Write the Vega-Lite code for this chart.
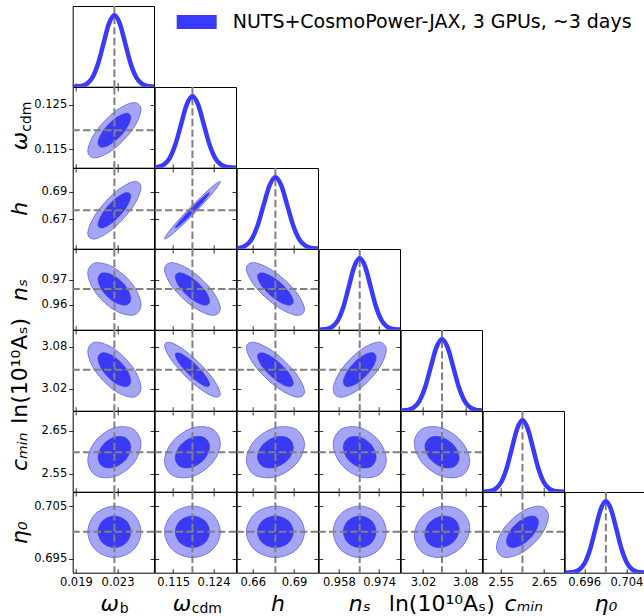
{
"$schema":"https://vega.github.io/schema/vega-lite/v6.json",
"padding":{"left":7.7,"top":2,"right":0,"bottom":0},
"background":"white",
"columns":7,
"bounds":"flush",
"spacing":0,
"datasets":{
"mn":[{"p":"wb","m":0.0227},{"p":"wc","m":0.1193},{"p":"h","m":0.6765},{"p":"ns","m":0.9663},{"p":"as","m":3.047},{"p":"cm","m":2.6},{"p":"e0","m":0.7001}],
"mg":[
{"p":"wb","x":0.01854,"d":0.0003},{"p":"wb","x":0.01906,"d":0.0022},{"p":"wb","x":0.01958,"d":0.0111},{"p":"wb","x":0.0201,"d":0.0439},{"p":"wb","x":0.02062,"d":0.1353},{"p":"wb","x":0.02114,"d":0.3247},{"p":"wb","x":0.02166,"d":0.6065},{"p":"wb","x":0.02218,"d":0.8825},{"p":"wb","x":0.0227,"d":1},{"p":"wb","x":0.02322,"d":0.8825},{"p":"wb","x":0.02374,"d":0.6065},{"p":"wb","x":0.02426,"d":0.3247},{"p":"wb","x":0.02478,"d":0.1353},{"p":"wb","x":0.0253,"d":0.0439},{"p":"wb","x":0.02582,"d":0.0111},{"p":"wb","x":0.02634,"d":0.0022},{"p":"wb","x":0.02686,"d":0.0003},
{"p":"wc","x":0.10918,"d":0.0003},{"p":"wc","x":0.110445,"d":0.0022},{"p":"wc","x":0.11171,"d":0.0111},{"p":"wc","x":0.112975,"d":0.0439},{"p":"wc","x":0.11424,"d":0.1353},{"p":"wc","x":0.115505,"d":0.3247},{"p":"wc","x":0.11677,"d":0.6065},{"p":"wc","x":0.118035,"d":0.8825},{"p":"wc","x":0.1193,"d":1},{"p":"wc","x":0.120565,"d":0.8825},{"p":"wc","x":0.12183,"d":0.6065},{"p":"wc","x":0.123095,"d":0.3247},{"p":"wc","x":0.12436,"d":0.1353},{"p":"wc","x":0.125625,"d":0.0439},{"p":"wc","x":0.12689,"d":0.0111},{"p":"wc","x":0.128155,"d":0.0022},{"p":"wc","x":0.12942,"d":0.0003},
{"p":"h","x":0.6421,"d":0.0003},{"p":"h","x":0.6464,"d":0.0022},{"p":"h","x":0.6507,"d":0.0111},{"p":"h","x":0.655,"d":0.0439},{"p":"h","x":0.6593,"d":0.1353},{"p":"h","x":0.6636,"d":0.3247},{"p":"h","x":0.6679,"d":0.6065},{"p":"h","x":0.6722,"d":0.8825},{"p":"h","x":0.6765,"d":1},{"p":"h","x":0.6808,"d":0.8825},{"p":"h","x":0.6851,"d":0.6065},{"p":"h","x":0.6894,"d":0.3247},{"p":"h","x":0.6937,"d":0.1353},{"p":"h","x":0.698,"d":0.0439},{"p":"h","x":0.7023,"d":0.0111},{"p":"h","x":0.7066,"d":0.0022},{"p":"h","x":0.7109,"d":0.0003},
{"p":"ns","x":0.9491,"d":0.0003},{"p":"ns","x":0.95125,"d":0.0022},{"p":"ns","x":0.9534,"d":0.0111},{"p":"ns","x":0.95555,"d":0.0439},{"p":"ns","x":0.9577,"d":0.1353},{"p":"ns","x":0.95985,"d":0.3247},{"p":"ns","x":0.962,"d":0.6065},{"p":"ns","x":0.96415,"d":0.8825},{"p":"ns","x":0.9663,"d":1},{"p":"ns","x":0.96845,"d":0.8825},{"p":"ns","x":0.9706,"d":0.6065},{"p":"ns","x":0.97275,"d":0.3247},{"p":"ns","x":0.9749,"d":0.1353},{"p":"ns","x":0.97705,"d":0.0439},{"p":"ns","x":0.9792,"d":0.0111},{"p":"ns","x":0.98135,"d":0.0022},{"p":"ns","x":0.9835,"d":0.0003},
{"p":"as","x":2.983,"d":0.0003},{"p":"as","x":2.991,"d":0.0022},{"p":"as","x":2.999,"d":0.0111},{"p":"as","x":3.007,"d":0.0439},{"p":"as","x":3.015,"d":0.1353},{"p":"as","x":3.023,"d":0.3247},{"p":"as","x":3.031,"d":0.6065},{"p":"as","x":3.039,"d":0.8825},{"p":"as","x":3.047,"d":1},{"p":"as","x":3.055,"d":0.8825},{"p":"as","x":3.063,"d":0.6065},{"p":"as","x":3.071,"d":0.3247},{"p":"as","x":3.079,"d":0.1353},{"p":"as","x":3.087,"d":0.0439},{"p":"as","x":3.095,"d":0.0111},{"p":"as","x":3.103,"d":0.0022},{"p":"as","x":3.111,"d":0.0003},
{"p":"cm","x":2.502,"d":0.0003},{"p":"cm","x":2.51425,"d":0.0022},{"p":"cm","x":2.5265,"d":0.0111},{"p":"cm","x":2.53875,"d":0.0439},{"p":"cm","x":2.551,"d":0.1353},{"p":"cm","x":2.56325,"d":0.3247},{"p":"cm","x":2.5755,"d":0.6065},{"p":"cm","x":2.58775,"d":0.8825},{"p":"cm","x":2.6,"d":1},{"p":"cm","x":2.61225,"d":0.8825},{"p":"cm","x":2.6245,"d":0.6065},{"p":"cm","x":2.63675,"d":0.3247},{"p":"cm","x":2.649,"d":0.1353},{"p":"cm","x":2.66125,"d":0.0439},{"p":"cm","x":2.6735,"d":0.0111},{"p":"cm","x":2.68575,"d":0.0022},{"p":"cm","x":2.698,"d":0.0003},
{"p":"e0","x":0.6921,"d":0.0003},{"p":"e0","x":0.6931,"d":0.0022},{"p":"e0","x":0.6941,"d":0.0111},{"p":"e0","x":0.6951,"d":0.0439},{"p":"e0","x":0.6961,"d":0.1353},{"p":"e0","x":0.6971,"d":0.3247},{"p":"e0","x":0.6981,"d":0.6065},{"p":"e0","x":0.6991,"d":0.8825},{"p":"e0","x":0.7001,"d":1},{"p":"e0","x":0.7011,"d":0.8825},{"p":"e0","x":0.7021,"d":0.6065},{"p":"e0","x":0.7031,"d":0.3247},{"p":"e0","x":0.7041,"d":0.1353},{"p":"e0","x":0.7051,"d":0.0439},{"p":"e0","x":0.7061,"d":0.0111},{"p":"e0","x":0.7071,"d":0.0022},{"p":"e0","x":0.7081,"d":0.0003}
],
"el":[
{"a":"wb","b":"wc","l":"o","i":0,"x":0.025248,"y":0.123949},{"a":"wb","b":"wc","l":"o","i":1,"x":0.024502,"y":0.125487},{"a":"wb","b":"wc","l":"o","i":2,"x":0.0227,"y":0.1234},{"a":"wb","b":"wc","l":"o","i":3,"x":0.020898,"y":0.118911},{"a":"wb","b":"wc","l":"o","i":4,"x":0.020152,"y":0.114651},{"a":"wb","b":"wc","l":"o","i":5,"x":0.020898,"y":0.113113},{"a":"wb","b":"wc","l":"o","i":6,"x":0.0227,"y":0.1152},{"a":"wb","b":"wc","l":"o","i":7,"x":0.024502,"y":0.119689},
{"a":"wb","b":"wc","l":"i","i":0,"x":0.024281,"y":0.122185},{"a":"wb","b":"wc","l":"i","i":1,"x":0.023818,"y":0.123138},{"a":"wb","b":"wc","l":"i","i":2,"x":0.0227,"y":0.121844},{"a":"wb","b":"wc","l":"i","i":3,"x":0.021582,"y":0.119059},{"a":"wb","b":"wc","l":"i","i":4,"x":0.021119,"y":0.116415},{"a":"wb","b":"wc","l":"i","i":5,"x":0.021582,"y":0.115462},{"a":"wb","b":"wc","l":"i","i":6,"x":0.0227,"y":0.116756},{"a":"wb","b":"wc","l":"i","i":7,"x":0.023818,"y":0.119541},
{"a":"wb","b":"h","l":"o","i":0,"x":0.025248,"y":0.693356},{"a":"wb","b":"h","l":"o","i":1,"x":0.024502,"y":0.697359},{"a":"wb","b":"h","l":"o","i":2,"x":0.0227,"y":0.689142},{"a":"wb","b":"h","l":"o","i":3,"x":0.020898,"y":0.673521},{"a":"wb","b":"h","l":"o","i":4,"x":0.020152,"y":0.659644},{"a":"wb","b":"h","l":"o","i":5,"x":0.020898,"y":0.655641},{"a":"wb","b":"h","l":"o","i":6,"x":0.0227,"y":0.663858},{"a":"wb","b":"h","l":"o","i":7,"x":0.024502,"y":0.679479},
{"a":"wb","b":"h","l":"i","i":0,"x":0.024281,"y":0.686958},{"a":"wb","b":"h","l":"i","i":1,"x":0.023818,"y":0.689441},{"a":"wb","b":"h","l":"i","i":2,"x":0.0227,"y":0.684343},{"a":"wb","b":"h","l":"i","i":3,"x":0.021582,"y":0.674652},{"a":"wb","b":"h","l":"i","i":4,"x":0.021119,"y":0.666042},{"a":"wb","b":"h","l":"i","i":5,"x":0.021582,"y":0.663559},{"a":"wb","b":"h","l":"i","i":6,"x":0.0227,"y":0.668657},{"a":"wb","b":"h","l":"i","i":7,"x":0.023818,"y":0.678348},
{"a":"wc","b":"h","l":"o","i":0,"x":0.125499,"y":0.697254},{"a":"wc","b":"h","l":"o","i":1,"x":0.123683,"y":0.693745},{"a":"wc","b":"h","l":"o","i":2,"x":0.1193,"y":0.680137},{"a":"wc","b":"h","l":"o","i":3,"x":0.114917,"y":0.664395},{"a":"wc","b":"h","l":"o","i":4,"x":0.113101,"y":0.655746},{"a":"wc","b":"h","l":"o","i":5,"x":0.114917,"y":0.659255},{"a":"wc","b":"h","l":"o","i":6,"x":0.1193,"y":0.672863},{"a":"wc","b":"h","l":"o","i":7,"x":0.123683,"y":0.688605},
{"a":"wc","b":"h","l":"i","i":0,"x":0.123146,"y":0.689376},{"a":"wc","b":"h","l":"i","i":1,"x":0.122019,"y":0.687199},{"a":"wc","b":"h","l":"i","i":2,"x":0.1193,"y":0.678756},{"a":"wc","b":"h","l":"i","i":3,"x":0.116581,"y":0.66899},{"a":"wc","b":"h","l":"i","i":4,"x":0.115454,"y":0.663624},{"a":"wc","b":"h","l":"i","i":5,"x":0.116581,"y":0.665801},{"a":"wc","b":"h","l":"i","i":6,"x":0.1193,"y":0.674244},{"a":"wc","b":"h","l":"i","i":7,"x":0.122019,"y":0.68401},
{"a":"wb","b":"ns","l":"o","i":0,"x":0.025248,"y":0.959979},{"a":"wb","b":"ns","l":"o","i":1,"x":0.024502,"y":0.96779},{"a":"wb","b":"ns","l":"o","i":2,"x":0.0227,"y":0.974728},{"a":"wb","b":"ns","l":"o","i":3,"x":0.020898,"y":0.97673},{"a":"wb","b":"ns","l":"o","i":4,"x":0.020152,"y":0.972621},{"a":"wb","b":"ns","l":"o","i":5,"x":0.020898,"y":0.96481},{"a":"wb","b":"ns","l":"o","i":6,"x":0.0227,"y":0.957872},{"a":"wb","b":"ns","l":"o","i":7,"x":0.024502,"y":0.95587},
{"a":"wb","b":"ns","l":"i","i":0,"x":0.024281,"y":0.962378},{"a":"wb","b":"ns","l":"i","i":1,"x":0.023818,"y":0.967224},{"a":"wb","b":"ns","l":"i","i":2,"x":0.0227,"y":0.971529},{"a":"wb","b":"ns","l":"i","i":3,"x":0.021582,"y":0.972771},{"a":"wb","b":"ns","l":"i","i":4,"x":0.021119,"y":0.970222},{"a":"wb","b":"ns","l":"i","i":5,"x":0.021582,"y":0.965376},{"a":"wb","b":"ns","l":"i","i":6,"x":0.0227,"y":0.961071},{"a":"wb","b":"ns","l":"i","i":7,"x":0.023818,"y":0.959829},
{"a":"wc","b":"ns","l":"o","i":0,"x":0.125499,"y":0.958399},{"a":"wc","b":"ns","l":"o","i":1,"x":0.123683,"y":0.965639},{"a":"wc","b":"ns","l":"o","i":2,"x":0.1193,"y":0.973268},{"a":"wc","b":"ns","l":"o","i":3,"x":0.114917,"y":0.976814},{"a":"wc","b":"ns","l":"o","i":4,"x":0.113101,"y":0.974201},{"a":"wc","b":"ns","l":"o","i":5,"x":0.114917,"y":0.966961},{"a":"wc","b":"ns","l":"o","i":6,"x":0.1193,"y":0.959332},{"a":"wc","b":"ns","l":"o","i":7,"x":0.123683,"y":0.955786},
{"a":"wc","b":"ns","l":"i","i":0,"x":0.123146,"y":0.961398},{"a":"wc","b":"ns","l":"i","i":1,"x":0.122019,"y":0.96589},{"a":"wc","b":"ns","l":"i","i":2,"x":0.1193,"y":0.970623},{"a":"wc","b":"ns","l":"i","i":3,"x":0.116581,"y":0.972823},{"a":"wc","b":"ns","l":"i","i":4,"x":0.115454,"y":0.971202},{"a":"wc","b":"ns","l":"i","i":5,"x":0.116581,"y":0.96671},{"a":"wc","b":"ns","l":"i","i":6,"x":0.1193,"y":0.961977},{"a":"wc","b":"ns","l":"i","i":7,"x":0.122019,"y":0.959777},
{"a":"h","b":"ns","l":"o","i":0,"x":0.69757,"y":0.958083},{"a":"h","b":"ns","l":"o","i":1,"x":0.691399,"y":0.965152},{"a":"h","b":"ns","l":"o","i":2,"x":0.6765,"y":0.972893},{"a":"h","b":"ns","l":"o","i":3,"x":0.661601,"y":0.976772},{"a":"h","b":"ns","l":"o","i":4,"x":0.65543,"y":0.974517},{"a":"h","b":"ns","l":"o","i":5,"x":0.661601,"y":0.967448},{"a":"h","b":"ns","l":"o","i":6,"x":0.6765,"y":0.959707},{"a":"h","b":"ns","l":"o","i":7,"x":0.691399,"y":0.955828},
{"a":"h","b":"ns","l":"i","i":0,"x":0.689572,"y":0.961202},{"a":"h","b":"ns","l":"i","i":1,"x":0.685743,"y":0.965588},{"a":"h","b":"ns","l":"i","i":2,"x":0.6765,"y":0.97039},{"a":"h","b":"ns","l":"i","i":3,"x":0.667257,"y":0.972797},{"a":"h","b":"ns","l":"i","i":4,"x":0.663428,"y":0.971398},{"a":"h","b":"ns","l":"i","i":5,"x":0.667257,"y":0.967012},{"a":"h","b":"ns","l":"i","i":6,"x":0.6765,"y":0.96221},{"a":"h","b":"ns","l":"i","i":7,"x":0.685743,"y":0.959803},
{"a":"wb","b":"as","l":"o","i":0,"x":0.025248,"y":3.021128},{"a":"wb","b":"as","l":"o","i":1,"x":0.024502,"y":3.049532},{"a":"wb","b":"as","l":"o","i":2,"x":0.0227,"y":3.076451},{"a":"wb","b":"as","l":"o","i":3,"x":0.020898,"y":3.086122},{"a":"wb","b":"as","l":"o","i":4,"x":0.020152,"y":3.072872},{"a":"wb","b":"as","l":"o","i":5,"x":0.020898,"y":3.044468},{"a":"wb","b":"as","l":"o","i":6,"x":0.0227,"y":3.017549},{"a":"wb","b":"as","l":"o","i":7,"x":0.024502,"y":3.007878},
{"a":"wb","b":"as","l":"i","i":0,"x":0.024281,"y":3.030949},{"a":"wb","b":"as","l":"i","i":1,"x":0.023818,"y":3.048571},{"a":"wb","b":"as","l":"i","i":2,"x":0.0227,"y":3.065272},{"a":"wb","b":"as","l":"i","i":3,"x":0.021582,"y":3.071271},{"a":"wb","b":"as","l":"i","i":4,"x":0.021119,"y":3.063051},{"a":"wb","b":"as","l":"i","i":5,"x":0.021582,"y":3.045429},{"a":"wb","b":"as","l":"i","i":6,"x":0.0227,"y":3.028728},{"a":"wb","b":"as","l":"i","i":7,"x":0.023818,"y":3.022729},
{"a":"wc","b":"as","l":"o","i":0,"x":0.125499,"y":3.012504},{"a":"wc","b":"as","l":"o","i":1,"x":0.123683,"y":3.035773},{"a":"wc","b":"as","l":"o","i":2,"x":0.1193,"y":3.06562},{"a":"wc","b":"as","l":"o","i":3,"x":0.114917,"y":3.084558},{"a":"wc","b":"as","l":"o","i":4,"x":0.113101,"y":3.081496},{"a":"wc","b":"as","l":"o","i":5,"x":0.114917,"y":3.058227},{"a":"wc","b":"as","l":"o","i":6,"x":0.1193,"y":3.02838},{"a":"wc","b":"as","l":"o","i":7,"x":0.123683,"y":3.009442},
{"a":"wc","b":"as","l":"i","i":0,"x":0.123146,"y":3.025598},{"a":"wc","b":"as","l":"i","i":1,"x":0.122019,"y":3.040035},{"a":"wc","b":"as","l":"i","i":2,"x":0.1193,"y":3.058552},{"a":"wc","b":"as","l":"i","i":3,"x":0.116581,"y":3.070301},{"a":"wc","b":"as","l":"i","i":4,"x":0.115454,"y":3.068402},{"a":"wc","b":"as","l":"i","i":5,"x":0.116581,"y":3.053965},{"a":"wc","b":"as","l":"i","i":6,"x":0.1193,"y":3.035448},{"a":"wc","b":"as","l":"i","i":7,"x":0.122019,"y":3.023699},
{"a":"h","b":"as","l":"o","i":0,"x":0.69757,"y":3.01564},{"a":"h","b":"as","l":"o","i":1,"x":0.691399,"y":3.041457},{"a":"h","b":"as","l":"o","i":2,"x":0.6765,"y":3.07052},{"a":"h","b":"as","l":"o","i":3,"x":0.661601,"y":3.085808},{"a":"h","b":"as","l":"o","i":4,"x":0.65543,"y":3.07836},{"a":"h","b":"as","l":"o","i":5,"x":0.661601,"y":3.052543},{"a":"h","b":"as","l":"o","i":6,"x":0.6765,"y":3.02348},{"a":"h","b":"as","l":"o","i":7,"x":0.691399,"y":3.008192},
{"a":"h","b":"as","l":"i","i":0,"x":0.689572,"y":3.027544},{"a":"h","b":"as","l":"i","i":1,"x":0.685743,"y":3.043561},{"a":"h","b":"as","l":"i","i":2,"x":0.6765,"y":3.061592},{"a":"h","b":"as","l":"i","i":3,"x":0.667257,"y":3.071077},{"a":"h","b":"as","l":"i","i":4,"x":0.663428,"y":3.066456},{"a":"h","b":"as","l":"i","i":5,"x":0.667257,"y":3.050439},{"a":"h","b":"as","l":"i","i":6,"x":0.6765,"y":3.032408},{"a":"h","b":"as","l":"i","i":7,"x":0.685743,"y":3.022923},
{"a":"ns","b":"as","l":"o","i":0,"x":0.976835,"y":3.075224},{"a":"ns","b":"as","l":"o","i":1,"x":0.973749,"y":3.0862},{"a":"ns","b":"as","l":"o","i":2,"x":0.9663,"y":3.074205},{"a":"ns","b":"as","l":"o","i":3,"x":0.958851,"y":3.046279},{"a":"ns","b":"as","l":"o","i":4,"x":0.955765,"y":3.018776},{"a":"ns","b":"as","l":"o","i":5,"x":0.958851,"y":3.0078},{"a":"ns","b":"as","l":"o","i":6,"x":0.9663,"y":3.019795},{"a":"ns","b":"as","l":"o","i":7,"x":0.973749,"y":3.047721},
{"a":"ns","b":"as","l":"i","i":0,"x":0.972836,"y":3.06451},{"a":"ns","b":"as","l":"i","i":1,"x":0.970922,"y":3.07132},{"a":"ns","b":"as","l":"i","i":2,"x":0.9663,"y":3.063878},{"a":"ns","b":"as","l":"i","i":3,"x":0.961678,"y":3.046553},{"a":"ns","b":"as","l":"i","i":4,"x":0.959764,"y":3.02949},{"a":"ns","b":"as","l":"i","i":5,"x":0.961678,"y":3.02268},{"a":"ns","b":"as","l":"i","i":6,"x":0.9663,"y":3.030122},{"a":"ns","b":"as","l":"i","i":7,"x":0.970922,"y":3.047447},
{"a":"wb","b":"cm","l":"o","i":0,"x":0.025248,"y":2.619208},{"a":"wb","b":"cm","l":"o","i":1,"x":0.024502,"y":2.653794},{"a":"wb","b":"cm","l":"o","i":2,"x":0.0227,"y":2.656868},{"a":"wb","b":"cm","l":"o","i":3,"x":0.020898,"y":2.626627},{"a":"wb","b":"cm","l":"o","i":4,"x":0.020152,"y":2.580792},{"a":"wb","b":"cm","l":"o","i":5,"x":0.020898,"y":2.546206},{"a":"wb","b":"cm","l":"o","i":6,"x":0.0227,"y":2.543132},{"a":"wb","b":"cm","l":"o","i":7,"x":0.024502,"y":2.573373},
{"a":"wb","b":"cm","l":"i","i":0,"x":0.024281,"y":2.611917},{"a":"wb","b":"cm","l":"i","i":1,"x":0.023818,"y":2.633374},{"a":"wb","b":"cm","l":"i","i":2,"x":0.0227,"y":2.635281},{"a":"wb","b":"cm","l":"i","i":3,"x":0.021582,"y":2.61652},{"a":"wb","b":"cm","l":"i","i":4,"x":0.021119,"y":2.588083},{"a":"wb","b":"cm","l":"i","i":5,"x":0.021582,"y":2.566626},{"a":"wb","b":"cm","l":"i","i":6,"x":0.0227,"y":2.564719},{"a":"wb","b":"cm","l":"i","i":7,"x":0.023818,"y":2.58348},
{"a":"wc","b":"cm","l":"o","i":0,"x":0.125499,"y":2.620409},{"a":"wc","b":"cm","l":"o","i":1,"x":0.123683,"y":2.654347},{"a":"wc","b":"cm","l":"o","i":2,"x":0.1193,"y":2.656448},{"a":"wc","b":"cm","l":"o","i":3,"x":0.114917,"y":2.625481},{"a":"wc","b":"cm","l":"o","i":4,"x":0.113101,"y":2.579591},{"a":"wc","b":"cm","l":"o","i":5,"x":0.114917,"y":2.545653},{"a":"wc","b":"cm","l":"o","i":6,"x":0.1193,"y":2.543552},{"a":"wc","b":"cm","l":"o","i":7,"x":0.123683,"y":2.574519},
{"a":"wc","b":"cm","l":"i","i":0,"x":0.123146,"y":2.612662},{"a":"wc","b":"cm","l":"i","i":1,"x":0.122019,"y":2.633717},{"a":"wc","b":"cm","l":"i","i":2,"x":0.1193,"y":2.635021},{"a":"wc","b":"cm","l":"i","i":3,"x":0.116581,"y":2.615808},{"a":"wc","b":"cm","l":"i","i":4,"x":0.115454,"y":2.587338},{"a":"wc","b":"cm","l":"i","i":5,"x":0.116581,"y":2.566283},{"a":"wc","b":"cm","l":"i","i":6,"x":0.1193,"y":2.564979},{"a":"wc","b":"cm","l":"i","i":7,"x":0.122019,"y":2.584192},
{"a":"h","b":"cm","l":"o","i":0,"x":0.69757,"y":2.618008},{"a":"h","b":"cm","l":"o","i":1,"x":0.691399,"y":2.653218},{"a":"h","b":"cm","l":"o","i":2,"x":0.6765,"y":2.657258},{"a":"h","b":"cm","l":"o","i":3,"x":0.661601,"y":2.627756},{"a":"h","b":"cm","l":"o","i":4,"x":0.65543,"y":2.581992},{"a":"h","b":"cm","l":"o","i":5,"x":0.661601,"y":2.546782},{"a":"h","b":"cm","l":"o","i":6,"x":0.6765,"y":2.542742},{"a":"h","b":"cm","l":"o","i":7,"x":0.691399,"y":2.572244},
{"a":"h","b":"cm","l":"i","i":0,"x":0.689572,"y":2.611172},{"a":"h","b":"cm","l":"i","i":1,"x":0.685743,"y":2.633017},{"a":"h","b":"cm","l":"i","i":2,"x":0.6765,"y":2.635523},{"a":"h","b":"cm","l":"i","i":3,"x":0.667257,"y":2.61722},{"a":"h","b":"cm","l":"i","i":4,"x":0.663428,"y":2.588828},{"a":"h","b":"cm","l":"i","i":5,"x":0.667257,"y":2.566983},{"a":"h","b":"cm","l":"i","i":6,"x":0.6765,"y":2.564477},{"a":"h","b":"cm","l":"i","i":7,"x":0.685743,"y":2.58278},
{"a":"ns","b":"cm","l":"o","i":0,"x":0.976835,"y":2.581992},{"a":"ns","b":"cm","l":"o","i":1,"x":0.973749,"y":2.627756},{"a":"ns","b":"cm","l":"o","i":2,"x":0.9663,"y":2.657258},{"a":"ns","b":"cm","l":"o","i":3,"x":0.958851,"y":2.653218},{"a":"ns","b":"cm","l":"o","i":4,"x":0.955765,"y":2.618008},{"a":"ns","b":"cm","l":"o","i":5,"x":0.958851,"y":2.572244},{"a":"ns","b":"cm","l":"o","i":6,"x":0.9663,"y":2.542742},{"a":"ns","b":"cm","l":"o","i":7,"x":0.973749,"y":2.546782},
{"a":"ns","b":"cm","l":"i","i":0,"x":0.972836,"y":2.588828},{"a":"ns","b":"cm","l":"i","i":1,"x":0.970922,"y":2.61722},{"a":"ns","b":"cm","l":"i","i":2,"x":0.9663,"y":2.635523},{"a":"ns","b":"cm","l":"i","i":3,"x":0.961678,"y":2.633017},{"a":"ns","b":"cm","l":"i","i":4,"x":0.959764,"y":2.611172},{"a":"ns","b":"cm","l":"i","i":5,"x":0.961678,"y":2.58278},{"a":"ns","b":"cm","l":"i","i":6,"x":0.9663,"y":2.564477},{"a":"ns","b":"cm","l":"i","i":7,"x":0.970922,"y":2.566983},
{"a":"as","b":"cm","l":"o","i":0,"x":3.0862,"y":2.578991},{"a":"as","b":"cm","l":"o","i":1,"x":3.07472,"y":2.624904},{"a":"as","b":"cm","l":"o","i":2,"x":3.047,"y":2.656225},{"a":"as","b":"cm","l":"o","i":3,"x":3.01928,"y":2.654611},{"a":"as","b":"cm","l":"o","i":4,"x":3.0078,"y":2.621009},{"a":"as","b":"cm","l":"o","i":5,"x":3.01928,"y":2.575096},{"a":"as","b":"cm","l":"o","i":6,"x":3.047,"y":2.543775},{"a":"as","b":"cm","l":"o","i":7,"x":3.07472,"y":2.545389},
{"a":"as","b":"cm","l":"i","i":0,"x":3.07132,"y":2.586966},{"a":"as","b":"cm","l":"i","i":1,"x":3.0642,"y":2.615451},{"a":"as","b":"cm","l":"i","i":2,"x":3.047,"y":2.634883},{"a":"as","b":"cm","l":"i","i":3,"x":3.0298,"y":2.633881},{"a":"as","b":"cm","l":"i","i":4,"x":3.02268,"y":2.613034},{"a":"as","b":"cm","l":"i","i":5,"x":3.0298,"y":2.584549},{"a":"as","b":"cm","l":"i","i":6,"x":3.047,"y":2.565117},{"a":"as","b":"cm","l":"i","i":7,"x":3.0642,"y":2.566119},
{"a":"wb","b":"e0","l":"o","i":0,"x":0.025248,"y":0.7001},{"a":"wb","b":"e0","l":"o","i":1,"x":0.024502,"y":0.703565},{"a":"wb","b":"e0","l":"o","i":2,"x":0.0227,"y":0.705},{"a":"wb","b":"e0","l":"o","i":3,"x":0.020898,"y":0.703565},{"a":"wb","b":"e0","l":"o","i":4,"x":0.020152,"y":0.7001},{"a":"wb","b":"e0","l":"o","i":5,"x":0.020898,"y":0.696635},{"a":"wb","b":"e0","l":"o","i":6,"x":0.0227,"y":0.6952},{"a":"wb","b":"e0","l":"o","i":7,"x":0.024502,"y":0.696635},
{"a":"wb","b":"e0","l":"i","i":0,"x":0.024281,"y":0.7001},{"a":"wb","b":"e0","l":"i","i":1,"x":0.023818,"y":0.70225},{"a":"wb","b":"e0","l":"i","i":2,"x":0.0227,"y":0.70314},{"a":"wb","b":"e0","l":"i","i":3,"x":0.021582,"y":0.70225},{"a":"wb","b":"e0","l":"i","i":4,"x":0.021119,"y":0.7001},{"a":"wb","b":"e0","l":"i","i":5,"x":0.021582,"y":0.69795},{"a":"wb","b":"e0","l":"i","i":6,"x":0.0227,"y":0.69706},{"a":"wb","b":"e0","l":"i","i":7,"x":0.023818,"y":0.69795},
{"a":"wc","b":"e0","l":"o","i":0,"x":0.125499,"y":0.7001},{"a":"wc","b":"e0","l":"o","i":1,"x":0.123683,"y":0.703565},{"a":"wc","b":"e0","l":"o","i":2,"x":0.1193,"y":0.705},{"a":"wc","b":"e0","l":"o","i":3,"x":0.114917,"y":0.703565},{"a":"wc","b":"e0","l":"o","i":4,"x":0.113101,"y":0.7001},{"a":"wc","b":"e0","l":"o","i":5,"x":0.114917,"y":0.696635},{"a":"wc","b":"e0","l":"o","i":6,"x":0.1193,"y":0.6952},{"a":"wc","b":"e0","l":"o","i":7,"x":0.123683,"y":0.696635},
{"a":"wc","b":"e0","l":"i","i":0,"x":0.123146,"y":0.7001},{"a":"wc","b":"e0","l":"i","i":1,"x":0.122019,"y":0.70225},{"a":"wc","b":"e0","l":"i","i":2,"x":0.1193,"y":0.70314},{"a":"wc","b":"e0","l":"i","i":3,"x":0.116581,"y":0.70225},{"a":"wc","b":"e0","l":"i","i":4,"x":0.115454,"y":0.7001},{"a":"wc","b":"e0","l":"i","i":5,"x":0.116581,"y":0.69795},{"a":"wc","b":"e0","l":"i","i":6,"x":0.1193,"y":0.69706},{"a":"wc","b":"e0","l":"i","i":7,"x":0.122019,"y":0.69795},
{"a":"h","b":"e0","l":"o","i":0,"x":0.69757,"y":0.7001},{"a":"h","b":"e0","l":"o","i":1,"x":0.691399,"y":0.703565},{"a":"h","b":"e0","l":"o","i":2,"x":0.6765,"y":0.705},{"a":"h","b":"e0","l":"o","i":3,"x":0.661601,"y":0.703565},{"a":"h","b":"e0","l":"o","i":4,"x":0.65543,"y":0.7001},{"a":"h","b":"e0","l":"o","i":5,"x":0.661601,"y":0.696635},{"a":"h","b":"e0","l":"o","i":6,"x":0.6765,"y":0.6952},{"a":"h","b":"e0","l":"o","i":7,"x":0.691399,"y":0.696635},
{"a":"h","b":"e0","l":"i","i":0,"x":0.689572,"y":0.7001},{"a":"h","b":"e0","l":"i","i":1,"x":0.685743,"y":0.70225},{"a":"h","b":"e0","l":"i","i":2,"x":0.6765,"y":0.70314},{"a":"h","b":"e0","l":"i","i":3,"x":0.667257,"y":0.70225},{"a":"h","b":"e0","l":"i","i":4,"x":0.663428,"y":0.7001},{"a":"h","b":"e0","l":"i","i":5,"x":0.667257,"y":0.69795},{"a":"h","b":"e0","l":"i","i":6,"x":0.6765,"y":0.69706},{"a":"h","b":"e0","l":"i","i":7,"x":0.685743,"y":0.69795},
{"a":"ns","b":"e0","l":"o","i":0,"x":0.976835,"y":0.7001},{"a":"ns","b":"e0","l":"o","i":1,"x":0.973749,"y":0.703565},{"a":"ns","b":"e0","l":"o","i":2,"x":0.9663,"y":0.705},{"a":"ns","b":"e0","l":"o","i":3,"x":0.958851,"y":0.703565},{"a":"ns","b":"e0","l":"o","i":4,"x":0.955765,"y":0.7001},{"a":"ns","b":"e0","l":"o","i":5,"x":0.958851,"y":0.696635},{"a":"ns","b":"e0","l":"o","i":6,"x":0.9663,"y":0.6952},{"a":"ns","b":"e0","l":"o","i":7,"x":0.973749,"y":0.696635},
{"a":"ns","b":"e0","l":"i","i":0,"x":0.972836,"y":0.7001},{"a":"ns","b":"e0","l":"i","i":1,"x":0.970922,"y":0.70225},{"a":"ns","b":"e0","l":"i","i":2,"x":0.9663,"y":0.70314},{"a":"ns","b":"e0","l":"i","i":3,"x":0.961678,"y":0.70225},{"a":"ns","b":"e0","l":"i","i":4,"x":0.959764,"y":0.7001},{"a":"ns","b":"e0","l":"i","i":5,"x":0.961678,"y":0.69795},{"a":"ns","b":"e0","l":"i","i":6,"x":0.9663,"y":0.69706},{"a":"ns","b":"e0","l":"i","i":7,"x":0.970922,"y":0.69795},
{"a":"as","b":"e0","l":"o","i":0,"x":3.0862,"y":0.700835},{"a":"as","b":"e0","l":"o","i":1,"x":3.07472,"y":0.704045},{"a":"as","b":"e0","l":"o","i":2,"x":3.047,"y":0.704945},{"a":"as","b":"e0","l":"o","i":3,"x":3.01928,"y":0.703006},{"a":"as","b":"e0","l":"o","i":4,"x":3.0078,"y":0.699365},{"a":"as","b":"e0","l":"o","i":5,"x":3.01928,"y":0.696155},{"a":"as","b":"e0","l":"o","i":6,"x":3.047,"y":0.695255},{"a":"as","b":"e0","l":"o","i":7,"x":3.07472,"y":0.697194},
{"a":"as","b":"e0","l":"i","i":0,"x":3.07132,"y":0.700556},{"a":"as","b":"e0","l":"i","i":1,"x":3.0642,"y":0.702548},{"a":"as","b":"e0","l":"i","i":2,"x":3.047,"y":0.703106},{"a":"as","b":"e0","l":"i","i":3,"x":3.0298,"y":0.701903},{"a":"as","b":"e0","l":"i","i":4,"x":3.02268,"y":0.699644},{"a":"as","b":"e0","l":"i","i":5,"x":3.0298,"y":0.697652},{"a":"as","b":"e0","l":"i","i":6,"x":3.047,"y":0.697094},{"a":"as","b":"e0","l":"i","i":7,"x":3.0642,"y":0.698297},
{"a":"cm","b":"e0","l":"o","i":0,"x":2.66003,"y":0.70304},{"a":"cm","b":"e0","l":"o","i":1,"x":2.64244,"y":0.704951},{"a":"cm","b":"e0","l":"o","i":2,"x":2.6,"y":0.70402},{"a":"cm","b":"e0","l":"o","i":3,"x":2.55756,"y":0.700793},{"a":"cm","b":"e0","l":"o","i":4,"x":2.53998,"y":0.69716},{"a":"cm","b":"e0","l":"o","i":5,"x":2.55756,"y":0.695249},{"a":"cm","b":"e0","l":"o","i":6,"x":2.6,"y":0.69618},{"a":"cm","b":"e0","l":"o","i":7,"x":2.64244,"y":0.699407},
{"a":"cm","b":"e0","l":"i","i":0,"x":2.63724,"y":0.701924},{"a":"cm","b":"e0","l":"i","i":1,"x":2.62633,"y":0.70311},{"a":"cm","b":"e0","l":"i","i":2,"x":2.6,"y":0.702532},{"a":"cm","b":"e0","l":"i","i":3,"x":2.57367,"y":0.70053},{"a":"cm","b":"e0","l":"i","i":4,"x":2.56276,"y":0.698276},{"a":"cm","b":"e0","l":"i","i":5,"x":2.57367,"y":0.69709},{"a":"cm","b":"e0","l":"i","i":6,"x":2.6,"y":0.697668},{"a":"cm","b":"e0","l":"i","i":7,"x":2.62633,"y":0.69967}
]},
"concat":[
{"width":81.3,"height":80.7,"resolve":{"axis":{"x":"independent","y":"independent"}},"layer":[
{"data":{"name":"mn"},"transform":[{"filter":"datum.p=='wb'"}],"mark":"rule","encoding":{"x":{"field":"m","type":"quantitative","axis":null}}},
{"data":{"name":"mg"},"transform":[{"filter":"datum.p=='wb'"}],"mark":{"type":"line","interpolate":"monotone","strokeWidth":4.5,"clip":true},"encoding":{"x":{"field":"x","type":"quantitative","scale":{"domain":[0.0187,0.0265],"nice":false,"zero":false},"axis":{"values":[0.019,0.023],"title":null}},"y":{"field":"d","type":"quantitative","scale":{"domain":[0,1.13],"nice":false,"zero":false},"axis":null},"color":{"datum":"NUTS+CosmoPower-JAX, 3 GPUs, ~3 days","type":"nominal","scale":{"range":["#3a3aff"]},"legend":{"orient":"none","legendX":104,"legendY":-4,"title":null,"padding":0,"symbolType":"M-1,-0.35H1V0.35H-1Z","symbolSize":1600,"labelFont":"DejaVu Sans","labelFontSize":19,"labelColor":"#000","labelLimit":0,"labelOffset":16,"encode":{"symbols":{"update":{"fill":{"value":"#3a3aff"},"stroke":{"value":"#3a3aff"},"strokeWidth":{"value":0}}}}}}}}
]},
{"width":81.3,"height":80.7,"view":{"stroke":null},"data":{"name":"mn"},"transform":[{"filter":"false"}],"mark":"point"},
{"width":81.3,"height":80.7,"view":{"stroke":null},"data":{"name":"mn"},"transform":[{"filter":"false"}],"mark":"point"},
{"width":81.3,"height":80.7,"view":{"stroke":null},"data":{"name":"mn"},"transform":[{"filter":"false"}],"mark":"point"},
{"width":81.3,"height":80.7,"view":{"stroke":null},"data":{"name":"mn"},"transform":[{"filter":"false"}],"mark":"point"},
{"width":81.3,"height":80.7,"view":{"stroke":null},"data":{"name":"mn"},"transform":[{"filter":"false"}],"mark":"point"},
{"width":81.3,"height":80.7,"view":{"stroke":null},"data":{"name":"mn"},"transform":[{"filter":"false"}],"mark":"point"},

{"width":81.3,"height":80.7,"resolve":{"axis":{"x":"independent","y":"independent"}},"layer":[
{"data":{"name":"el"},"transform":[{"filter":"datum.a=='wb'&&datum.b=='wc'&&datum.l=='o'"}],"mark":{"type":"line","interpolate":"cardinal-closed","fill":"#a5a5f6","stroke":"#7070f2","strokeWidth":1},"encoding":{"x":{"field":"x","type":"quantitative","scale":{"domain":[0.0187,0.0265],"nice":false,"zero":false},"axis":{"values":[0.019,0.023],"title":null}},"y":{"field":"y","type":"quantitative","scale":{"domain":[0.1109,0.129],"nice":false,"zero":false},"axis":{"values":[0.115,0.125],"format":".3f","labels":true,"tickSize":4,"labelPadding":2,"title":"ω","titleY":44.3,"titleAlign":"right"}},"order":{"field":"i","type":"quantitative"}}},
{"data":{"name":"el"},"transform":[{"filter":"datum.a=='wb'&&datum.b=='wc'&&datum.l=='i'"}],"mark":{"type":"line","interpolate":"cardinal-closed","fill":"#3a3af5","stroke":"#3a3af5","strokeWidth":0.5},"encoding":{"x":{"field":"x","type":"quantitative","axis":{"orient":"top","values":[0.019,0.023],"title":null}},"y":{"field":"y","type":"quantitative","axis":{"orient":"right","values":[0.115,0.125],"title":null}},"order":{"field":"i","type":"quantitative"}}},
{"data":{"name":"mn"},"transform":[{"filter":"datum.p=='wb'"}],"mark":"rule","encoding":{"x":{"field":"m","type":"quantitative","axis":null}}},
{"data":{"name":"mn"},"transform":[{"filter":"datum.p=='wc'"}],"mark":"rule","encoding":{"y":{"field":"m","type":"quantitative","axis":{"orient":"left","ticks":false,"labels":false,"title":"cdm","titleX":-42,"titleY":44.3,"titleAlign":"left","titleFontSize":14,"titleFontStyle":"normal"}}}}
]},
{"width":81.3,"height":80.7,"resolve":{"axis":{"x":"independent","y":"independent"}},"layer":[
{"data":{"name":"mn"},"transform":[{"filter":"datum.p=='wc'"}],"mark":"rule","encoding":{"x":{"field":"m","type":"quantitative","axis":null}}},
{"data":{"name":"mg"},"transform":[{"filter":"datum.p=='wc'"}],"mark":{"type":"line","interpolate":"monotone","stroke":"#3a3aff","strokeWidth":4.5,"clip":true},"encoding":{"x":{"field":"x","type":"quantitative","scale":{"domain":[0.1109,0.129],"nice":false,"zero":false},"axis":{"values":[0.115,0.124],"title":null}},"y":{"field":"d","type":"quantitative","scale":{"domain":[0,1.13],"nice":false,"zero":false},"axis":null}}}
]},
{"width":81.3,"height":80.7,"view":{"stroke":null},"data":{"name":"mn"},"transform":[{"filter":"false"}],"mark":"point"},
{"width":81.3,"height":80.7,"view":{"stroke":null},"data":{"name":"mn"},"transform":[{"filter":"false"}],"mark":"point"},
{"width":81.3,"height":80.7,"view":{"stroke":null},"data":{"name":"mn"},"transform":[{"filter":"false"}],"mark":"point"},
{"width":81.3,"height":80.7,"view":{"stroke":null},"data":{"name":"mn"},"transform":[{"filter":"false"}],"mark":"point"},
{"width":81.3,"height":80.7,"view":{"stroke":null},"data":{"name":"mn"},"transform":[{"filter":"false"}],"mark":"point"},

{"width":81.3,"height":80.7,"resolve":{"axis":{"x":"independent","y":"independent"}},"layer":[
{"data":{"name":"el"},"transform":[{"filter":"datum.a=='wb'&&datum.b=='h'&&datum.l=='o'"}],"mark":{"type":"line","interpolate":"cardinal-closed","fill":"#a5a5f6","stroke":"#7070f2","strokeWidth":1},"encoding":{"x":{"field":"x","type":"quantitative","scale":{"domain":[0.0187,0.0265],"nice":false,"zero":false},"axis":{"values":[0.019,0.023],"title":null}},"y":{"field":"y","type":"quantitative","scale":{"domain":[0.6484,0.7074],"nice":false,"zero":false},"axis":{"values":[0.67,0.69],"format":".2f","labels":true,"tickSize":4,"labelPadding":2,"title":"h"}},"order":{"field":"i","type":"quantitative"}}},
{"data":{"name":"el"},"transform":[{"filter":"datum.a=='wb'&&datum.b=='h'&&datum.l=='i'"}],"mark":{"type":"line","interpolate":"cardinal-closed","fill":"#3a3af5","stroke":"#3a3af5","strokeWidth":0.5},"encoding":{"x":{"field":"x","type":"quantitative","axis":{"orient":"top","values":[0.019,0.023],"title":null}},"y":{"field":"y","type":"quantitative","axis":{"orient":"right","values":[0.67,0.69],"title":null}},"order":{"field":"i","type":"quantitative"}}},
{"data":{"name":"mn"},"transform":[{"filter":"datum.p=='wb'"}],"mark":"rule","encoding":{"x":{"field":"m","type":"quantitative","axis":null}}},
{"data":{"name":"mn"},"transform":[{"filter":"datum.p=='h'"}],"mark":"rule","encoding":{"y":{"field":"m","type":"quantitative","axis":null}}}
]},
{"width":81.3,"height":80.7,"resolve":{"axis":{"x":"independent","y":"independent"}},"layer":[
{"data":{"name":"el"},"transform":[{"filter":"datum.a=='wc'&&datum.b=='h'&&datum.l=='o'"}],"mark":{"type":"line","interpolate":"cardinal-closed","fill":"#a5a5f6","stroke":"#7070f2","strokeWidth":1},"encoding":{"x":{"field":"x","type":"quantitative","scale":{"domain":[0.1109,0.129],"nice":false,"zero":false},"axis":{"values":[0.115,0.124],"title":null}},"y":{"field":"y","type":"quantitative","scale":{"domain":[0.6484,0.7074],"nice":false,"zero":false},"axis":{"values":[0.67,0.69],"title":null}},"order":{"field":"i","type":"quantitative"}}},
{"data":{"name":"el"},"transform":[{"filter":"datum.a=='wc'&&datum.b=='h'&&datum.l=='i'"}],"mark":{"type":"line","interpolate":"cardinal-closed","fill":"#3a3af5","stroke":"#3a3af5","strokeWidth":0.5},"encoding":{"x":{"field":"x","type":"quantitative","axis":{"orient":"top","values":[0.115,0.124],"title":null}},"y":{"field":"y","type":"quantitative","axis":{"orient":"right","values":[0.67,0.69],"title":null}},"order":{"field":"i","type":"quantitative"}}},
{"data":{"name":"mn"},"transform":[{"filter":"datum.p=='wc'"}],"mark":"rule","encoding":{"x":{"field":"m","type":"quantitative","axis":null}}},
{"data":{"name":"mn"},"transform":[{"filter":"datum.p=='h'"}],"mark":"rule","encoding":{"y":{"field":"m","type":"quantitative","axis":null}}}
]},
{"width":81.3,"height":80.7,"resolve":{"axis":{"x":"independent","y":"independent"}},"layer":[
{"data":{"name":"mn"},"transform":[{"filter":"datum.p=='h'"}],"mark":"rule","encoding":{"x":{"field":"m","type":"quantitative","axis":null}}},
{"data":{"name":"mg"},"transform":[{"filter":"datum.p=='h'"}],"mark":{"type":"line","interpolate":"monotone","stroke":"#3a3aff","strokeWidth":4.5,"clip":true},"encoding":{"x":{"field":"x","type":"quantitative","scale":{"domain":[0.6484,0.7074],"nice":false,"zero":false},"axis":{"values":[0.66,0.69],"title":null}},"y":{"field":"d","type":"quantitative","scale":{"domain":[0,1.13],"nice":false,"zero":false},"axis":null}}}
]},
{"width":81.3,"height":80.7,"view":{"stroke":null},"data":{"name":"mn"},"transform":[{"filter":"false"}],"mark":"point"},
{"width":81.3,"height":80.7,"view":{"stroke":null},"data":{"name":"mn"},"transform":[{"filter":"false"}],"mark":"point"},
{"width":81.3,"height":80.7,"view":{"stroke":null},"data":{"name":"mn"},"transform":[{"filter":"false"}],"mark":"point"},
{"width":81.3,"height":80.7,"view":{"stroke":null},"data":{"name":"mn"},"transform":[{"filter":"false"}],"mark":"point"},

{"width":81.3,"height":80.7,"resolve":{"axis":{"x":"independent","y":"independent"}},"layer":[
{"data":{"name":"el"},"transform":[{"filter":"datum.a=='wb'&&datum.b=='ns'&&datum.l=='o'"}],"mark":{"type":"line","interpolate":"cardinal-closed","fill":"#a5a5f6","stroke":"#7070f2","strokeWidth":1},"encoding":{"x":{"field":"x","type":"quantitative","scale":{"domain":[0.0187,0.0265],"nice":false,"zero":false},"axis":{"values":[0.019,0.023],"title":null}},"y":{"field":"y","type":"quantitative","scale":{"domain":[0.95,0.9823],"nice":false,"zero":false},"axis":{"values":[0.96,0.97],"format":".2f","labels":true,"tickSize":4,"labelPadding":2,"title":"nₛ"}},"order":{"field":"i","type":"quantitative"}}},
{"data":{"name":"el"},"transform":[{"filter":"datum.a=='wb'&&datum.b=='ns'&&datum.l=='i'"}],"mark":{"type":"line","interpolate":"cardinal-closed","fill":"#3a3af5","stroke":"#3a3af5","strokeWidth":0.5},"encoding":{"x":{"field":"x","type":"quantitative","axis":{"orient":"top","values":[0.019,0.023],"title":null}},"y":{"field":"y","type":"quantitative","axis":{"orient":"right","values":[0.96,0.97],"title":null}},"order":{"field":"i","type":"quantitative"}}},
{"data":{"name":"mn"},"transform":[{"filter":"datum.p=='wb'"}],"mark":"rule","encoding":{"x":{"field":"m","type":"quantitative","axis":null}}},
{"data":{"name":"mn"},"transform":[{"filter":"datum.p=='ns'"}],"mark":"rule","encoding":{"y":{"field":"m","type":"quantitative","axis":null}}}
]},
{"width":81.3,"height":80.7,"resolve":{"axis":{"x":"independent","y":"independent"}},"layer":[
{"data":{"name":"el"},"transform":[{"filter":"datum.a=='wc'&&datum.b=='ns'&&datum.l=='o'"}],"mark":{"type":"line","interpolate":"cardinal-closed","fill":"#a5a5f6","stroke":"#7070f2","strokeWidth":1},"encoding":{"x":{"field":"x","type":"quantitative","scale":{"domain":[0.1109,0.129],"nice":false,"zero":false},"axis":{"values":[0.115,0.124],"title":null}},"y":{"field":"y","type":"quantitative","scale":{"domain":[0.95,0.9823],"nice":false,"zero":false},"axis":{"values":[0.96,0.97],"title":null}},"order":{"field":"i","type":"quantitative"}}},
{"data":{"name":"el"},"transform":[{"filter":"datum.a=='wc'&&datum.b=='ns'&&datum.l=='i'"}],"mark":{"type":"line","interpolate":"cardinal-closed","fill":"#3a3af5","stroke":"#3a3af5","strokeWidth":0.5},"encoding":{"x":{"field":"x","type":"quantitative","axis":{"orient":"top","values":[0.115,0.124],"title":null}},"y":{"field":"y","type":"quantitative","axis":{"orient":"right","values":[0.96,0.97],"title":null}},"order":{"field":"i","type":"quantitative"}}},
{"data":{"name":"mn"},"transform":[{"filter":"datum.p=='wc'"}],"mark":"rule","encoding":{"x":{"field":"m","type":"quantitative","axis":null}}},
{"data":{"name":"mn"},"transform":[{"filter":"datum.p=='ns'"}],"mark":"rule","encoding":{"y":{"field":"m","type":"quantitative","axis":null}}}
]},
{"width":81.3,"height":80.7,"resolve":{"axis":{"x":"independent","y":"independent"}},"layer":[
{"data":{"name":"el"},"transform":[{"filter":"datum.a=='h'&&datum.b=='ns'&&datum.l=='o'"}],"mark":{"type":"line","interpolate":"cardinal-closed","fill":"#a5a5f6","stroke":"#7070f2","strokeWidth":1},"encoding":{"x":{"field":"x","type":"quantitative","scale":{"domain":[0.6484,0.7074],"nice":false,"zero":false},"axis":{"values":[0.66,0.69],"title":null}},"y":{"field":"y","type":"quantitative","scale":{"domain":[0.95,0.9823],"nice":false,"zero":false},"axis":{"values":[0.96,0.97],"title":null}},"order":{"field":"i","type":"quantitative"}}},
{"data":{"name":"el"},"transform":[{"filter":"datum.a=='h'&&datum.b=='ns'&&datum.l=='i'"}],"mark":{"type":"line","interpolate":"cardinal-closed","fill":"#3a3af5","stroke":"#3a3af5","strokeWidth":0.5},"encoding":{"x":{"field":"x","type":"quantitative","axis":{"orient":"top","values":[0.66,0.69],"title":null}},"y":{"field":"y","type":"quantitative","axis":{"orient":"right","values":[0.96,0.97],"title":null}},"order":{"field":"i","type":"quantitative"}}},
{"data":{"name":"mn"},"transform":[{"filter":"datum.p=='h'"}],"mark":"rule","encoding":{"x":{"field":"m","type":"quantitative","axis":null}}},
{"data":{"name":"mn"},"transform":[{"filter":"datum.p=='ns'"}],"mark":"rule","encoding":{"y":{"field":"m","type":"quantitative","axis":null}}}
]},
{"width":81.3,"height":80.7,"resolve":{"axis":{"x":"independent","y":"independent"}},"layer":[
{"data":{"name":"mn"},"transform":[{"filter":"datum.p=='ns'"}],"mark":"rule","encoding":{"x":{"field":"m","type":"quantitative","axis":null}}},
{"data":{"name":"mg"},"transform":[{"filter":"datum.p=='ns'"}],"mark":{"type":"line","interpolate":"monotone","stroke":"#3a3aff","strokeWidth":4.5,"clip":true},"encoding":{"x":{"field":"x","type":"quantitative","scale":{"domain":[0.95,0.9823],"nice":false,"zero":false},"axis":{"values":[0.958,0.974],"title":null}},"y":{"field":"d","type":"quantitative","scale":{"domain":[0,1.13],"nice":false,"zero":false},"axis":null}}}
]},
{"width":81.3,"height":80.7,"view":{"stroke":null},"data":{"name":"mn"},"transform":[{"filter":"false"}],"mark":"point"},
{"width":81.3,"height":80.7,"view":{"stroke":null},"data":{"name":"mn"},"transform":[{"filter":"false"}],"mark":"point"},
{"width":81.3,"height":80.7,"view":{"stroke":null},"data":{"name":"mn"},"transform":[{"filter":"false"}],"mark":"point"},

{"width":81.3,"height":80.7,"resolve":{"axis":{"x":"independent","y":"independent"}},"layer":[
{"data":{"name":"el"},"transform":[{"filter":"datum.a=='wb'&&datum.b=='as'&&datum.l=='o'"}],"mark":{"type":"line","interpolate":"cardinal-closed","fill":"#a5a5f6","stroke":"#7070f2","strokeWidth":1},"encoding":{"x":{"field":"x","type":"quantitative","scale":{"domain":[0.0187,0.0265],"nice":false,"zero":false},"axis":{"values":[0.019,0.023],"title":null}},"y":{"field":"y","type":"quantitative","scale":{"domain":[2.9886,3.1035],"nice":false,"zero":false},"axis":{"values":[3.02,3.08],"format":".2f","labels":true,"tickSize":4,"labelPadding":2,"title":"ln(10¹⁰Aₛ)","titleFontStyle":"normal"}},"order":{"field":"i","type":"quantitative"}}},
{"data":{"name":"el"},"transform":[{"filter":"datum.a=='wb'&&datum.b=='as'&&datum.l=='i'"}],"mark":{"type":"line","interpolate":"cardinal-closed","fill":"#3a3af5","stroke":"#3a3af5","strokeWidth":0.5},"encoding":{"x":{"field":"x","type":"quantitative","axis":{"orient":"top","values":[0.019,0.023],"title":null}},"y":{"field":"y","type":"quantitative","axis":{"orient":"right","values":[3.02,3.08],"title":null}},"order":{"field":"i","type":"quantitative"}}},
{"data":{"name":"mn"},"transform":[{"filter":"datum.p=='wb'"}],"mark":"rule","encoding":{"x":{"field":"m","type":"quantitative","axis":null}}},
{"data":{"name":"mn"},"transform":[{"filter":"datum.p=='as'"}],"mark":"rule","encoding":{"y":{"field":"m","type":"quantitative","axis":null}}}
]},
{"width":81.3,"height":80.7,"resolve":{"axis":{"x":"independent","y":"independent"}},"layer":[
{"data":{"name":"el"},"transform":[{"filter":"datum.a=='wc'&&datum.b=='as'&&datum.l=='o'"}],"mark":{"type":"line","interpolate":"cardinal-closed","fill":"#a5a5f6","stroke":"#7070f2","strokeWidth":1},"encoding":{"x":{"field":"x","type":"quantitative","scale":{"domain":[0.1109,0.129],"nice":false,"zero":false},"axis":{"values":[0.115,0.124],"title":null}},"y":{"field":"y","type":"quantitative","scale":{"domain":[2.9886,3.1035],"nice":false,"zero":false},"axis":{"values":[3.02,3.08],"title":null}},"order":{"field":"i","type":"quantitative"}}},
{"data":{"name":"el"},"transform":[{"filter":"datum.a=='wc'&&datum.b=='as'&&datum.l=='i'"}],"mark":{"type":"line","interpolate":"cardinal-closed","fill":"#3a3af5","stroke":"#3a3af5","strokeWidth":0.5},"encoding":{"x":{"field":"x","type":"quantitative","axis":{"orient":"top","values":[0.115,0.124],"title":null}},"y":{"field":"y","type":"quantitative","axis":{"orient":"right","values":[3.02,3.08],"title":null}},"order":{"field":"i","type":"quantitative"}}},
{"data":{"name":"mn"},"transform":[{"filter":"datum.p=='wc'"}],"mark":"rule","encoding":{"x":{"field":"m","type":"quantitative","axis":null}}},
{"data":{"name":"mn"},"transform":[{"filter":"datum.p=='as'"}],"mark":"rule","encoding":{"y":{"field":"m","type":"quantitative","axis":null}}}
]},
{"width":81.3,"height":80.7,"resolve":{"axis":{"x":"independent","y":"independent"}},"layer":[
{"data":{"name":"el"},"transform":[{"filter":"datum.a=='h'&&datum.b=='as'&&datum.l=='o'"}],"mark":{"type":"line","interpolate":"cardinal-closed","fill":"#a5a5f6","stroke":"#7070f2","strokeWidth":1},"encoding":{"x":{"field":"x","type":"quantitative","scale":{"domain":[0.6484,0.7074],"nice":false,"zero":false},"axis":{"values":[0.66,0.69],"title":null}},"y":{"field":"y","type":"quantitative","scale":{"domain":[2.9886,3.1035],"nice":false,"zero":false},"axis":{"values":[3.02,3.08],"title":null}},"order":{"field":"i","type":"quantitative"}}},
{"data":{"name":"el"},"transform":[{"filter":"datum.a=='h'&&datum.b=='as'&&datum.l=='i'"}],"mark":{"type":"line","interpolate":"cardinal-closed","fill":"#3a3af5","stroke":"#3a3af5","strokeWidth":0.5},"encoding":{"x":{"field":"x","type":"quantitative","axis":{"orient":"top","values":[0.66,0.69],"title":null}},"y":{"field":"y","type":"quantitative","axis":{"orient":"right","values":[3.02,3.08],"title":null}},"order":{"field":"i","type":"quantitative"}}},
{"data":{"name":"mn"},"transform":[{"filter":"datum.p=='h'"}],"mark":"rule","encoding":{"x":{"field":"m","type":"quantitative","axis":null}}},
{"data":{"name":"mn"},"transform":[{"filter":"datum.p=='as'"}],"mark":"rule","encoding":{"y":{"field":"m","type":"quantitative","axis":null}}}
]},
{"width":81.3,"height":80.7,"resolve":{"axis":{"x":"independent","y":"independent"}},"layer":[
{"data":{"name":"el"},"transform":[{"filter":"datum.a=='ns'&&datum.b=='as'&&datum.l=='o'"}],"mark":{"type":"line","interpolate":"cardinal-closed","fill":"#a5a5f6","stroke":"#7070f2","strokeWidth":1},"encoding":{"x":{"field":"x","type":"quantitative","scale":{"domain":[0.95,0.9823],"nice":false,"zero":false},"axis":{"values":[0.958,0.974],"title":null}},"y":{"field":"y","type":"quantitative","scale":{"domain":[2.9886,3.1035],"nice":false,"zero":false},"axis":{"values":[3.02,3.08],"title":null}},"order":{"field":"i","type":"quantitative"}}},
{"data":{"name":"el"},"transform":[{"filter":"datum.a=='ns'&&datum.b=='as'&&datum.l=='i'"}],"mark":{"type":"line","interpolate":"cardinal-closed","fill":"#3a3af5","stroke":"#3a3af5","strokeWidth":0.5},"encoding":{"x":{"field":"x","type":"quantitative","axis":{"orient":"top","values":[0.958,0.974],"title":null}},"y":{"field":"y","type":"quantitative","axis":{"orient":"right","values":[3.02,3.08],"title":null}},"order":{"field":"i","type":"quantitative"}}},
{"data":{"name":"mn"},"transform":[{"filter":"datum.p=='ns'"}],"mark":"rule","encoding":{"x":{"field":"m","type":"quantitative","axis":null}}},
{"data":{"name":"mn"},"transform":[{"filter":"datum.p=='as'"}],"mark":"rule","encoding":{"y":{"field":"m","type":"quantitative","axis":null}}}
]},
{"width":81.3,"height":80.7,"resolve":{"axis":{"x":"independent","y":"independent"}},"layer":[
{"data":{"name":"mn"},"transform":[{"filter":"datum.p=='as'"}],"mark":"rule","encoding":{"x":{"field":"m","type":"quantitative","axis":null}}},
{"data":{"name":"mg"},"transform":[{"filter":"datum.p=='as'"}],"mark":{"type":"line","interpolate":"monotone","stroke":"#3a3aff","strokeWidth":4.5,"clip":true},"encoding":{"x":{"field":"x","type":"quantitative","scale":{"domain":[2.9886,3.1035],"nice":false,"zero":false},"axis":{"values":[3.02,3.08],"title":null}},"y":{"field":"d","type":"quantitative","scale":{"domain":[0,1.13],"nice":false,"zero":false},"axis":null}}}
]},
{"width":81.3,"height":80.7,"view":{"stroke":null},"data":{"name":"mn"},"transform":[{"filter":"false"}],"mark":"point"},
{"width":81.3,"height":80.7,"view":{"stroke":null},"data":{"name":"mn"},"transform":[{"filter":"false"}],"mark":"point"},

{"width":81.3,"height":80.7,"resolve":{"axis":{"x":"independent","y":"independent"}},"layer":[
{"data":{"name":"el"},"transform":[{"filter":"datum.a=='wb'&&datum.b=='cm'&&datum.l=='o'"}],"mark":{"type":"line","interpolate":"cardinal-closed","fill":"#a5a5f6","stroke":"#7070f2","strokeWidth":1},"encoding":{"x":{"field":"x","type":"quantitative","scale":{"domain":[0.0187,0.0265],"nice":false,"zero":false},"axis":{"values":[0.019,0.023],"title":null}},"y":{"field":"y","type":"quantitative","scale":{"domain":[2.508,2.696],"nice":false,"zero":false},"axis":{"values":[2.55,2.65],"format":".2f","labels":true,"tickSize":4,"labelPadding":2,"title":"cₘᵢₙ"}},"order":{"field":"i","type":"quantitative"}}},
{"data":{"name":"el"},"transform":[{"filter":"datum.a=='wb'&&datum.b=='cm'&&datum.l=='i'"}],"mark":{"type":"line","interpolate":"cardinal-closed","fill":"#3a3af5","stroke":"#3a3af5","strokeWidth":0.5},"encoding":{"x":{"field":"x","type":"quantitative","axis":{"orient":"top","values":[0.019,0.023],"title":null}},"y":{"field":"y","type":"quantitative","axis":{"orient":"right","values":[2.55,2.65],"title":null}},"order":{"field":"i","type":"quantitative"}}},
{"data":{"name":"mn"},"transform":[{"filter":"datum.p=='wb'"}],"mark":"rule","encoding":{"x":{"field":"m","type":"quantitative","axis":null}}},
{"data":{"name":"mn"},"transform":[{"filter":"datum.p=='cm'"}],"mark":"rule","encoding":{"y":{"field":"m","type":"quantitative","axis":null}}}
]},
{"width":81.3,"height":80.7,"resolve":{"axis":{"x":"independent","y":"independent"}},"layer":[
{"data":{"name":"el"},"transform":[{"filter":"datum.a=='wc'&&datum.b=='cm'&&datum.l=='o'"}],"mark":{"type":"line","interpolate":"cardinal-closed","fill":"#a5a5f6","stroke":"#7070f2","strokeWidth":1},"encoding":{"x":{"field":"x","type":"quantitative","scale":{"domain":[0.1109,0.129],"nice":false,"zero":false},"axis":{"values":[0.115,0.124],"title":null}},"y":{"field":"y","type":"quantitative","scale":{"domain":[2.508,2.696],"nice":false,"zero":false},"axis":{"values":[2.55,2.65],"title":null}},"order":{"field":"i","type":"quantitative"}}},
{"data":{"name":"el"},"transform":[{"filter":"datum.a=='wc'&&datum.b=='cm'&&datum.l=='i'"}],"mark":{"type":"line","interpolate":"cardinal-closed","fill":"#3a3af5","stroke":"#3a3af5","strokeWidth":0.5},"encoding":{"x":{"field":"x","type":"quantitative","axis":{"orient":"top","values":[0.115,0.124],"title":null}},"y":{"field":"y","type":"quantitative","axis":{"orient":"right","values":[2.55,2.65],"title":null}},"order":{"field":"i","type":"quantitative"}}},
{"data":{"name":"mn"},"transform":[{"filter":"datum.p=='wc'"}],"mark":"rule","encoding":{"x":{"field":"m","type":"quantitative","axis":null}}},
{"data":{"name":"mn"},"transform":[{"filter":"datum.p=='cm'"}],"mark":"rule","encoding":{"y":{"field":"m","type":"quantitative","axis":null}}}
]},
{"width":81.3,"height":80.7,"resolve":{"axis":{"x":"independent","y":"independent"}},"layer":[
{"data":{"name":"el"},"transform":[{"filter":"datum.a=='h'&&datum.b=='cm'&&datum.l=='o'"}],"mark":{"type":"line","interpolate":"cardinal-closed","fill":"#a5a5f6","stroke":"#7070f2","strokeWidth":1},"encoding":{"x":{"field":"x","type":"quantitative","scale":{"domain":[0.6484,0.7074],"nice":false,"zero":false},"axis":{"values":[0.66,0.69],"title":null}},"y":{"field":"y","type":"quantitative","scale":{"domain":[2.508,2.696],"nice":false,"zero":false},"axis":{"values":[2.55,2.65],"title":null}},"order":{"field":"i","type":"quantitative"}}},
{"data":{"name":"el"},"transform":[{"filter":"datum.a=='h'&&datum.b=='cm'&&datum.l=='i'"}],"mark":{"type":"line","interpolate":"cardinal-closed","fill":"#3a3af5","stroke":"#3a3af5","strokeWidth":0.5},"encoding":{"x":{"field":"x","type":"quantitative","axis":{"orient":"top","values":[0.66,0.69],"title":null}},"y":{"field":"y","type":"quantitative","axis":{"orient":"right","values":[2.55,2.65],"title":null}},"order":{"field":"i","type":"quantitative"}}},
{"data":{"name":"mn"},"transform":[{"filter":"datum.p=='h'"}],"mark":"rule","encoding":{"x":{"field":"m","type":"quantitative","axis":null}}},
{"data":{"name":"mn"},"transform":[{"filter":"datum.p=='cm'"}],"mark":"rule","encoding":{"y":{"field":"m","type":"quantitative","axis":null}}}
]},
{"width":81.3,"height":80.7,"resolve":{"axis":{"x":"independent","y":"independent"}},"layer":[
{"data":{"name":"el"},"transform":[{"filter":"datum.a=='ns'&&datum.b=='cm'&&datum.l=='o'"}],"mark":{"type":"line","interpolate":"cardinal-closed","fill":"#a5a5f6","stroke":"#7070f2","strokeWidth":1},"encoding":{"x":{"field":"x","type":"quantitative","scale":{"domain":[0.95,0.9823],"nice":false,"zero":false},"axis":{"values":[0.958,0.974],"title":null}},"y":{"field":"y","type":"quantitative","scale":{"domain":[2.508,2.696],"nice":false,"zero":false},"axis":{"values":[2.55,2.65],"title":null}},"order":{"field":"i","type":"quantitative"}}},
{"data":{"name":"el"},"transform":[{"filter":"datum.a=='ns'&&datum.b=='cm'&&datum.l=='i'"}],"mark":{"type":"line","interpolate":"cardinal-closed","fill":"#3a3af5","stroke":"#3a3af5","strokeWidth":0.5},"encoding":{"x":{"field":"x","type":"quantitative","axis":{"orient":"top","values":[0.958,0.974],"title":null}},"y":{"field":"y","type":"quantitative","axis":{"orient":"right","values":[2.55,2.65],"title":null}},"order":{"field":"i","type":"quantitative"}}},
{"data":{"name":"mn"},"transform":[{"filter":"datum.p=='ns'"}],"mark":"rule","encoding":{"x":{"field":"m","type":"quantitative","axis":null}}},
{"data":{"name":"mn"},"transform":[{"filter":"datum.p=='cm'"}],"mark":"rule","encoding":{"y":{"field":"m","type":"quantitative","axis":null}}}
]},
{"width":81.3,"height":80.7,"resolve":{"axis":{"x":"independent","y":"independent"}},"layer":[
{"data":{"name":"el"},"transform":[{"filter":"datum.a=='as'&&datum.b=='cm'&&datum.l=='o'"}],"mark":{"type":"line","interpolate":"cardinal-closed","fill":"#a5a5f6","stroke":"#7070f2","strokeWidth":1},"encoding":{"x":{"field":"x","type":"quantitative","scale":{"domain":[2.9886,3.1035],"nice":false,"zero":false},"axis":{"values":[3.02,3.08],"title":null}},"y":{"field":"y","type":"quantitative","scale":{"domain":[2.508,2.696],"nice":false,"zero":false},"axis":{"values":[2.55,2.65],"title":null}},"order":{"field":"i","type":"quantitative"}}},
{"data":{"name":"el"},"transform":[{"filter":"datum.a=='as'&&datum.b=='cm'&&datum.l=='i'"}],"mark":{"type":"line","interpolate":"cardinal-closed","fill":"#3a3af5","stroke":"#3a3af5","strokeWidth":0.5},"encoding":{"x":{"field":"x","type":"quantitative","axis":{"orient":"top","values":[3.02,3.08],"title":null}},"y":{"field":"y","type":"quantitative","axis":{"orient":"right","values":[2.55,2.65],"title":null}},"order":{"field":"i","type":"quantitative"}}},
{"data":{"name":"mn"},"transform":[{"filter":"datum.p=='as'"}],"mark":"rule","encoding":{"x":{"field":"m","type":"quantitative","axis":null}}},
{"data":{"name":"mn"},"transform":[{"filter":"datum.p=='cm'"}],"mark":"rule","encoding":{"y":{"field":"m","type":"quantitative","axis":null}}}
]},
{"width":81.3,"height":80.7,"resolve":{"axis":{"x":"independent","y":"independent"}},"layer":[
{"data":{"name":"mn"},"transform":[{"filter":"datum.p=='cm'"}],"mark":"rule","encoding":{"x":{"field":"m","type":"quantitative","axis":null}}},
{"data":{"name":"mg"},"transform":[{"filter":"datum.p=='cm'"}],"mark":{"type":"line","interpolate":"monotone","stroke":"#3a3aff","strokeWidth":4.5,"clip":true},"encoding":{"x":{"field":"x","type":"quantitative","scale":{"domain":[2.508,2.696],"nice":false,"zero":false},"axis":{"values":[2.55,2.65],"title":null}},"y":{"field":"d","type":"quantitative","scale":{"domain":[0,1.13],"nice":false,"zero":false},"axis":null}}}
]},
{"width":81.3,"height":80.7,"view":{"stroke":null},"data":{"name":"mn"},"transform":[{"filter":"false"}],"mark":"point"},

{"width":81.3,"height":80.7,"resolve":{"axis":{"x":"independent","y":"independent"}},"layer":[
{"data":{"name":"el"},"transform":[{"filter":"datum.a=='wb'&&datum.b=='e0'&&datum.l=='o'"}],"mark":{"type":"line","interpolate":"cardinal-closed","fill":"#a5a5f6","stroke":"#7070f2","strokeWidth":1},"encoding":{"x":{"field":"x","type":"quantitative","scale":{"domain":[0.0187,0.0265],"nice":false,"zero":false},"axis":{"values":[0.019,0.023],"format":".3f","labels":true,"title":"ω","titleX":45.8,"titleAlign":"right"}},"y":{"field":"y","type":"quantitative","scale":{"domain":[0.6923,0.7077],"nice":false,"zero":false},"axis":{"values":[0.695,0.705],"format":".3f","labels":true,"tickSize":4,"labelPadding":2,"title":"η₀"}},"order":{"field":"i","type":"quantitative"}}},
{"data":{"name":"el"},"transform":[{"filter":"datum.a=='wb'&&datum.b=='e0'&&datum.l=='i'"}],"mark":{"type":"line","interpolate":"cardinal-closed","fill":"#3a3af5","stroke":"#3a3af5","strokeWidth":0.5},"encoding":{"x":{"field":"x","type":"quantitative","axis":{"orient":"top","values":[0.019,0.023],"title":null}},"y":{"field":"y","type":"quantitative","axis":{"orient":"right","values":[0.695,0.705],"title":null}},"order":{"field":"i","type":"quantitative"}}},
{"data":{"name":"mn"},"transform":[{"filter":"datum.p=='wb'"}],"mark":"rule","encoding":{"x":{"field":"m","type":"quantitative","axis":{"orient":"bottom","ticks":false,"labels":false,"title":"b","titleX":46.6,"titleY":40,"titleAlign":"left","titleFontSize":14,"titleFontStyle":"normal"}}}},
{"data":{"name":"mn"},"transform":[{"filter":"datum.p=='e0'"}],"mark":"rule","encoding":{"y":{"field":"m","type":"quantitative","axis":null}}}
]},
{"width":81.3,"height":80.7,"resolve":{"axis":{"x":"independent","y":"independent"}},"layer":[
{"data":{"name":"el"},"transform":[{"filter":"datum.a=='wc'&&datum.b=='e0'&&datum.l=='o'"}],"mark":{"type":"line","interpolate":"cardinal-closed","fill":"#a5a5f6","stroke":"#7070f2","strokeWidth":1},"encoding":{"x":{"field":"x","type":"quantitative","scale":{"domain":[0.1109,0.129],"nice":false,"zero":false},"axis":{"values":[0.115,0.124],"format":".3f","labels":true,"title":"ω","titleX":36,"titleAlign":"right"}},"y":{"field":"y","type":"quantitative","scale":{"domain":[0.6923,0.7077],"nice":false,"zero":false},"axis":{"values":[0.695,0.705],"title":null}},"order":{"field":"i","type":"quantitative"}}},
{"data":{"name":"el"},"transform":[{"filter":"datum.a=='wc'&&datum.b=='e0'&&datum.l=='i'"}],"mark":{"type":"line","interpolate":"cardinal-closed","fill":"#3a3af5","stroke":"#3a3af5","strokeWidth":0.5},"encoding":{"x":{"field":"x","type":"quantitative","axis":{"orient":"top","values":[0.115,0.124],"title":null}},"y":{"field":"y","type":"quantitative","axis":{"orient":"right","values":[0.695,0.705],"title":null}},"order":{"field":"i","type":"quantitative"}}},
{"data":{"name":"mn"},"transform":[{"filter":"datum.p=='wc'"}],"mark":"rule","encoding":{"x":{"field":"m","type":"quantitative","axis":{"orient":"bottom","ticks":false,"labels":false,"title":"cdm","titleX":36.6,"titleY":40,"titleAlign":"left","titleFontSize":14,"titleFontStyle":"normal"}}}},
{"data":{"name":"mn"},"transform":[{"filter":"datum.p=='e0'"}],"mark":"rule","encoding":{"y":{"field":"m","type":"quantitative","axis":null}}}
]},
{"width":81.3,"height":80.7,"resolve":{"axis":{"x":"independent","y":"independent"}},"layer":[
{"data":{"name":"el"},"transform":[{"filter":"datum.a=='h'&&datum.b=='e0'&&datum.l=='o'"}],"mark":{"type":"line","interpolate":"cardinal-closed","fill":"#a5a5f6","stroke":"#7070f2","strokeWidth":1},"encoding":{"x":{"field":"x","type":"quantitative","scale":{"domain":[0.6484,0.7074],"nice":false,"zero":false},"axis":{"values":[0.66,0.69],"format":".2f","labels":true,"title":"h"}},"y":{"field":"y","type":"quantitative","scale":{"domain":[0.6923,0.7077],"nice":false,"zero":false},"axis":{"values":[0.695,0.705],"title":null}},"order":{"field":"i","type":"quantitative"}}},
{"data":{"name":"el"},"transform":[{"filter":"datum.a=='h'&&datum.b=='e0'&&datum.l=='i'"}],"mark":{"type":"line","interpolate":"cardinal-closed","fill":"#3a3af5","stroke":"#3a3af5","strokeWidth":0.5},"encoding":{"x":{"field":"x","type":"quantitative","axis":{"orient":"top","values":[0.66,0.69],"title":null}},"y":{"field":"y","type":"quantitative","axis":{"orient":"right","values":[0.695,0.705],"title":null}},"order":{"field":"i","type":"quantitative"}}},
{"data":{"name":"mn"},"transform":[{"filter":"datum.p=='h'"}],"mark":"rule","encoding":{"x":{"field":"m","type":"quantitative","axis":null}}},
{"data":{"name":"mn"},"transform":[{"filter":"datum.p=='e0'"}],"mark":"rule","encoding":{"y":{"field":"m","type":"quantitative","axis":null}}}
]},
{"width":81.3,"height":80.7,"resolve":{"axis":{"x":"independent","y":"independent"}},"layer":[
{"data":{"name":"el"},"transform":[{"filter":"datum.a=='ns'&&datum.b=='e0'&&datum.l=='o'"}],"mark":{"type":"line","interpolate":"cardinal-closed","fill":"#a5a5f6","stroke":"#7070f2","strokeWidth":1},"encoding":{"x":{"field":"x","type":"quantitative","scale":{"domain":[0.95,0.9823],"nice":false,"zero":false},"axis":{"values":[0.958,0.974],"format":".3f","labels":true,"title":"nₛ"}},"y":{"field":"y","type":"quantitative","scale":{"domain":[0.6923,0.7077],"nice":false,"zero":false},"axis":{"values":[0.695,0.705],"title":null}},"order":{"field":"i","type":"quantitative"}}},
{"data":{"name":"el"},"transform":[{"filter":"datum.a=='ns'&&datum.b=='e0'&&datum.l=='i'"}],"mark":{"type":"line","interpolate":"cardinal-closed","fill":"#3a3af5","stroke":"#3a3af5","strokeWidth":0.5},"encoding":{"x":{"field":"x","type":"quantitative","axis":{"orient":"top","values":[0.958,0.974],"title":null}},"y":{"field":"y","type":"quantitative","axis":{"orient":"right","values":[0.695,0.705],"title":null}},"order":{"field":"i","type":"quantitative"}}},
{"data":{"name":"mn"},"transform":[{"filter":"datum.p=='ns'"}],"mark":"rule","encoding":{"x":{"field":"m","type":"quantitative","axis":null}}},
{"data":{"name":"mn"},"transform":[{"filter":"datum.p=='e0'"}],"mark":"rule","encoding":{"y":{"field":"m","type":"quantitative","axis":null}}}
]},
{"width":81.3,"height":80.7,"resolve":{"axis":{"x":"independent","y":"independent"}},"layer":[
{"data":{"name":"el"},"transform":[{"filter":"datum.a=='as'&&datum.b=='e0'&&datum.l=='o'"}],"mark":{"type":"line","interpolate":"cardinal-closed","fill":"#a5a5f6","stroke":"#7070f2","strokeWidth":1},"encoding":{"x":{"field":"x","type":"quantitative","scale":{"domain":[2.9886,3.1035],"nice":false,"zero":false},"axis":{"values":[3.02,3.08],"format":".2f","labels":true,"title":"ln(10¹⁰Aₛ)","titleFontStyle":"normal"}},"y":{"field":"y","type":"quantitative","scale":{"domain":[0.6923,0.7077],"nice":false,"zero":false},"axis":{"values":[0.695,0.705],"title":null}},"order":{"field":"i","type":"quantitative"}}},
{"data":{"name":"el"},"transform":[{"filter":"datum.a=='as'&&datum.b=='e0'&&datum.l=='i'"}],"mark":{"type":"line","interpolate":"cardinal-closed","fill":"#3a3af5","stroke":"#3a3af5","strokeWidth":0.5},"encoding":{"x":{"field":"x","type":"quantitative","axis":{"orient":"top","values":[3.02,3.08],"title":null}},"y":{"field":"y","type":"quantitative","axis":{"orient":"right","values":[0.695,0.705],"title":null}},"order":{"field":"i","type":"quantitative"}}},
{"data":{"name":"mn"},"transform":[{"filter":"datum.p=='as'"}],"mark":"rule","encoding":{"x":{"field":"m","type":"quantitative","axis":null}}},
{"data":{"name":"mn"},"transform":[{"filter":"datum.p=='e0'"}],"mark":"rule","encoding":{"y":{"field":"m","type":"quantitative","axis":null}}}
]},
{"width":81.3,"height":80.7,"resolve":{"axis":{"x":"independent","y":"independent"}},"layer":[
{"data":{"name":"el"},"transform":[{"filter":"datum.a=='cm'&&datum.b=='e0'&&datum.l=='o'"}],"mark":{"type":"line","interpolate":"cardinal-closed","fill":"#a5a5f6","stroke":"#7070f2","strokeWidth":1},"encoding":{"x":{"field":"x","type":"quantitative","scale":{"domain":[2.508,2.696],"nice":false,"zero":false},"axis":{"values":[2.55,2.65],"format":".2f","labels":true,"title":"cₘᵢₙ"}},"y":{"field":"y","type":"quantitative","scale":{"domain":[0.6923,0.7077],"nice":false,"zero":false},"axis":{"values":[0.695,0.705],"title":null}},"order":{"field":"i","type":"quantitative"}}},
{"data":{"name":"el"},"transform":[{"filter":"datum.a=='cm'&&datum.b=='e0'&&datum.l=='i'"}],"mark":{"type":"line","interpolate":"cardinal-closed","fill":"#3a3af5","stroke":"#3a3af5","strokeWidth":0.5},"encoding":{"x":{"field":"x","type":"quantitative","axis":{"orient":"top","values":[2.55,2.65],"title":null}},"y":{"field":"y","type":"quantitative","axis":{"orient":"right","values":[0.695,0.705],"title":null}},"order":{"field":"i","type":"quantitative"}}},
{"data":{"name":"mn"},"transform":[{"filter":"datum.p=='cm'"}],"mark":"rule","encoding":{"x":{"field":"m","type":"quantitative","axis":null}}},
{"data":{"name":"mn"},"transform":[{"filter":"datum.p=='e0'"}],"mark":"rule","encoding":{"y":{"field":"m","type":"quantitative","axis":null}}}
]},
{"width":81.3,"height":80.7,"resolve":{"axis":{"x":"independent","y":"independent"}},"layer":[
{"data":{"name":"mn"},"transform":[{"filter":"datum.p=='e0'"}],"mark":"rule","encoding":{"x":{"field":"m","type":"quantitative","axis":null}}},
{"data":{"name":"mg"},"transform":[{"filter":"datum.p=='e0'"}],"mark":{"type":"line","interpolate":"monotone","stroke":"#3a3aff","strokeWidth":4.5,"clip":true},"encoding":{"x":{"field":"x","type":"quantitative","scale":{"domain":[0.6923,0.7077],"nice":false,"zero":false},"axis":{"values":[0.696,0.704],"format":".3f","labels":true,"title":"η₀"}},"y":{"field":"d","type":"quantitative","scale":{"domain":[0,1.13],"nice":false,"zero":false},"axis":null}}}
]}
],
"config":{
"font":"DejaVu Sans",
"view":{"stroke":"#000","strokeWidth":1},
"axis":{"domain":false,"grid":false,"tickSize":-4,"tickColor":"#000","tickWidth":0.8,"labels":false,"labelFont":"DejaVu Sans","labelFontSize":11.5,"labelColor":"#000","labelPadding":8,"labelFlush":false,"labelOverlap":false,"titleFont":"DejaVu Sans","titleFontSize":22,"titleFontWeight":"normal","titleFontStyle":"italic","titleColor":"#000","titleBaseline":"alphabetic"},
"axisBottom":{"titleY":37.5},
"axisLeft":{"titleX":-46},
"rule":{"stroke":"#808080","strokeDash":[7.4,3.2],"strokeWidth":2},
"concat":{"spacing":0}
}
}
